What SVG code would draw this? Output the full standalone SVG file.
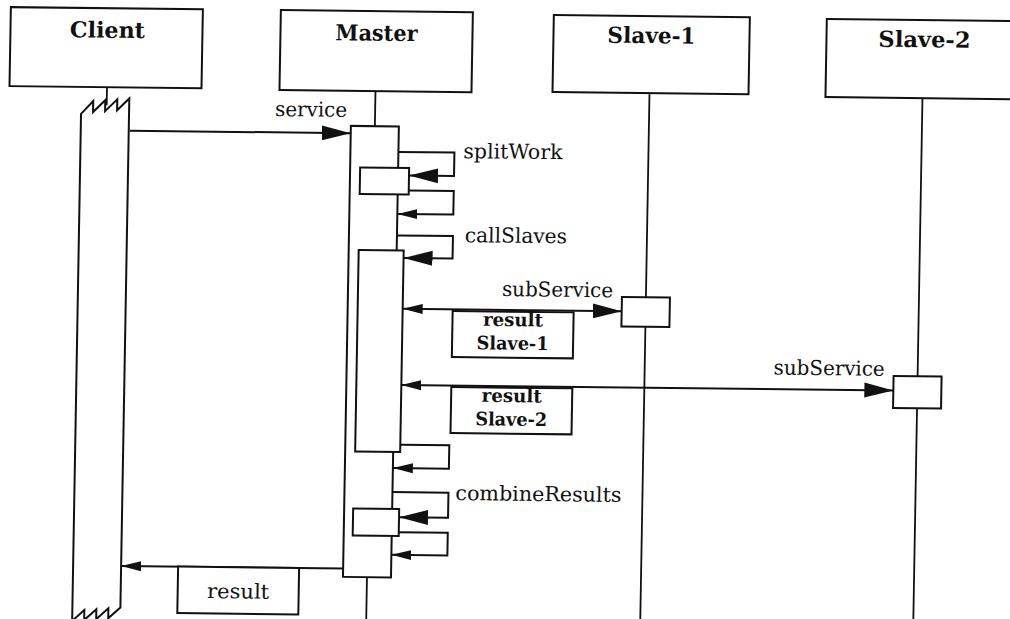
<svg xmlns="http://www.w3.org/2000/svg" width="1010" height="619" viewBox="0 0 1010 619">
  <style>
    .box { fill: #fff; stroke: #111; stroke-width: 2; }
    .life { stroke: #111; stroke-width: 1.8; fill: none; }
    .msg { stroke: #111; stroke-width: 2; fill: none; }
    .hdr { font-family: "DejaVu Serif", "Liberation Serif", serif; font-weight: bold; font-size: 22px; fill: #111; text-anchor: middle; }
    .lbl { font-family: "DejaVu Serif", "Liberation Serif", serif; font-size: 20.5px; fill: #111; }
    .rb { font-family: "DejaVu Serif", "Liberation Serif", serif; font-weight: bold; font-size: 18.5px; fill: #111; text-anchor: middle; }
  </style>
  <defs>
    <marker id="big" markerUnits="userSpaceOnUse" viewBox="0 0 30 16" markerWidth="30" markerHeight="16" refX="29" refY="8" orient="auto-start-reverse">
      <path d="M0,0.5 L29,8 L0,15.5 Z" fill="#111"/>
    </marker>
    <marker id="small" markerUnits="userSpaceOnUse" viewBox="0 0 21 11" markerWidth="21" markerHeight="11" refX="20" refY="5.5" orient="auto-start-reverse">
      <path d="M0,0.5 L20,5.5 L0,10.5 Z" fill="#111"/>
    </marker>
  </defs>
  <rect x="0" y="0" width="1010" height="619" fill="#fff"/>
  <g transform="matrix(1,0.011,-0.0175,1,0,0)">
    <g id="client">
      <line class="life" x1="108.5" y1="86" x2="108.5" y2="104"/>
      <rect class="box" x="11" y="7" width="192" height="79"/>
      <text class="hdr" x="108" y="36.5" textLength="75" lengthAdjust="spacingAndGlyphs">Client</text>
      <path class="box" d="M83,113 L95,100 L95,111 L107,99 L107,110 L119,98 L119,109 L131,97 L131,606 L119,617 L119,607 L107,618 L107,608 L95,619 L95,609 L83,620 Z"/>
    </g>
    <g id="master">
      <line class="life" x1="377" y1="87" x2="377" y2="640"/>
      <rect class="box" x="281" y="7" width="192" height="80"/>
      <text class="hdr" x="377" y="36.5" textLength="82" lengthAdjust="spacingAndGlyphs">Master</text>
      <rect class="box" x="353" y="122" width="48" height="451"/>
      <rect class="box" x="363" y="163.5" width="49" height="26.5"/>
      <rect class="box" x="363" y="246" width="45" height="201.5"/>
      <rect class="box" x="362" y="504.5" width="46" height="27"/>
    </g>
    <g id="slave1">
      <line class="life" x1="651" y1="87" x2="651" y2="640"/>
      <rect class="box" x="554" y="9" width="196" height="77"/>
      <text class="hdr" x="652" y="36" textLength="88" lengthAdjust="spacingAndGlyphs">Slave-1</text>
      <rect class="box" x="627" y="290" width="48" height="29.5"/>
    </g>
    <g id="slave2">
      <line class="life" x1="924" y1="88" x2="924" y2="640"/>
      <rect class="box" x="827" y="10" width="200" height="78"/>
      <text class="hdr" x="925" y="37" textLength="92" lengthAdjust="spacingAndGlyphs">Slave-2</text>
      <rect class="box" x="900" y="366" width="48" height="32"/>
    </g>
    <g id="connectors">
      <line class="msg" x1="132" y1="129.3" x2="353" y2="129.3" marker-end="url(#big)"/>
      <text class="lbl" x="349" y="113" text-anchor="end" textLength="72" lengthAdjust="spacingAndGlyphs">service</text>

      <path class="msg" d="M401,147.5 H457 V171 H412" marker-end="url(#big)"/>
      <text class="lbl" x="466" y="153" textLength="99" lengthAdjust="spacingAndGlyphs">splitWork</text>
      <path class="msg" d="M412,186 H457 V209.5 H401" marker-end="url(#small)"/>

      <path class="msg" d="M401,231 H457 V253.5 H408" marker-end="url(#big)"/>
      <text class="lbl" x="469" y="237" textLength="102" lengthAdjust="spacingAndGlyphs">callSlaves</text>

      <line class="msg" x1="408" y1="304.3" x2="627" y2="304.3" marker-start="url(#small)" marker-end="url(#big)"/>
      <text class="lbl" x="618" y="290.5" text-anchor="end" textLength="111" lengthAdjust="spacingAndGlyphs">subService</text>
      <rect class="box" x="458" y="306" width="121" height="46"/>
      <text class="rb" x="518.5" y="320.5" textLength="60" lengthAdjust="spacingAndGlyphs">result</text>
      <text class="rb" x="518.5" y="344" textLength="72" lengthAdjust="spacingAndGlyphs">Slave-1</text>

      <line class="msg" x1="408" y1="380.5" x2="900" y2="380.5" marker-start="url(#small)" marker-end="url(#big)"/>
      <text class="lbl" x="891" y="366" text-anchor="end" textLength="111" lengthAdjust="spacingAndGlyphs">subService</text>
      <rect class="box" x="458" y="382" width="121" height="46"/>
      <text class="rb" x="518.5" y="396.5" textLength="60" lengthAdjust="spacingAndGlyphs">result</text>
      <text class="rb" x="518.5" y="420" textLength="72" lengthAdjust="spacingAndGlyphs">Slave-2</text>

      <path class="msg" d="M408,440.3 H457 V463.7 H401" marker-end="url(#small)"/>

      <path class="msg" d="M401,487.7 H457 V512.7 H408" marker-end="url(#big)"/>
      <text class="lbl" x="464" y="495" textLength="166" lengthAdjust="spacingAndGlyphs">combineResults</text>
      <path class="msg" d="M408,527.7 H457 V550.4 H401" marker-end="url(#small)"/>

      <line class="msg" x1="353" y1="564.5" x2="131" y2="564.5" marker-end="url(#small)"/>
      <rect class="box" x="188" y="564.5" width="121" height="46.5"/>
      <text class="lbl" x="248.5" y="595.7" text-anchor="middle" textLength="62" lengthAdjust="spacingAndGlyphs">result</text>
    </g>
  </g>
</svg>
